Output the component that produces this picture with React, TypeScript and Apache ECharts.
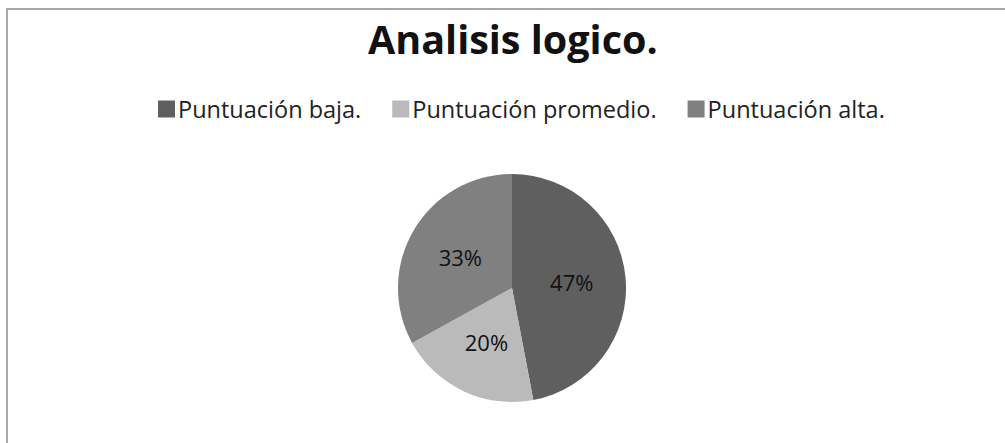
import React, { useEffect, useRef } from "react";
import * as echarts from "echarts";

const categories = ["Puntuación baja.", "Puntuación promedio.", "Puntuación alta."];
const values = [47, 20, 33];
const colors = ["#5f5f5f", "#bababa", "#808080"];

export default function App() {
  const ref = useRef<HTMLDivElement>(null);
  useEffect(() => {
    if (!ref.current) return;
    const chart = echarts.init(ref.current, undefined, { renderer: "svg" });
    chart.setOption({
      animation: false,
      backgroundColor: "#ffffff",
      title: {
        text: "Analisis logico.",
        left: 363,
        top: 14,
        textStyle: { fontFamily: "Open Sans", fontWeight: "bold", fontSize: 39.5, color: "#111" },
      },
      legend: {
        data: categories,
        top: 92,
        left: 153,
        icon: "rect",
        itemWidth: 17,
        itemHeight: 17,
        itemGap: 31,
        textStyle: { fontFamily: "Open Sans", fontSize: 23.5, color: "#222", padding: [0, 0, 0, -2] },
      },
      graphic: [
        {
          type: "rect",
          shape: { x: 7, y: 9, width: 1100, height: 500 },
          style: { fill: "none", stroke: "#a8a8a8", lineWidth: 2 },
          silent: true,
        },
      ],
      series: [
        {
          type: "pie",
          center: [512, 288],
          radius: [0, 114],
          startAngle: 90,
          clockwise: true,
          label: {
            position: "inside",
            formatter: "{d}%",
            fontFamily: "Open Sans",
            fontSize: 22,
            color: "#111",
          },
          labelLine: { show: false },
          emphasis: { disabled: true },
          data: categories.map((name, i) => ({
            name,
            value: values[i],
            itemStyle: { color: colors[i] },
          })),
        },
      ],
    });
    return () => chart.dispose();
  }, []);
  return (
    <div
      ref={ref}
      style={{ position: "fixed", left: 0, top: 0, width: 1005, height: 443 }}
    />
  );
}
